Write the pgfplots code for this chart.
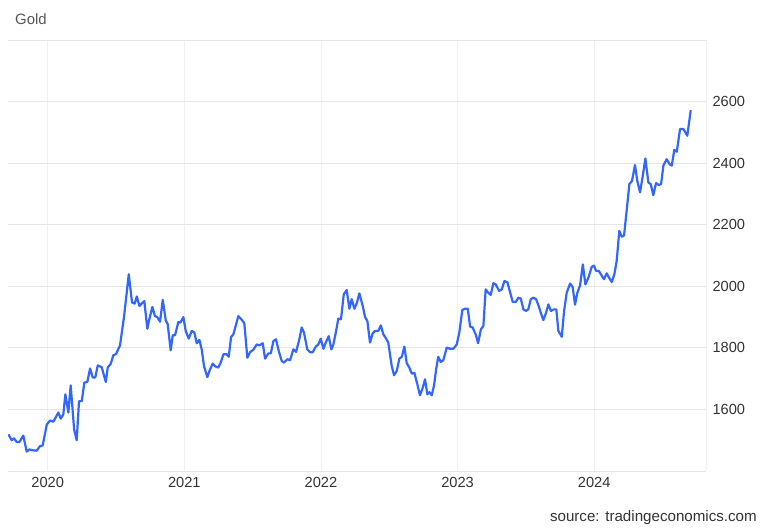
\documentclass[border=0pt]{standalone}
\usepackage{fontspec}
\setmainfont{Liberation Sans}
\usepackage{pgfplots}
\pgfplotsset{compat=1.18}

\definecolor{goldline}{HTML}{3366FF}
\definecolor{hgrid}{HTML}{E6E6E6}
\definecolor{vgrid}{HTML}{EEF1F5}
\definecolor{ticktext}{HTML}{333333}
\definecolor{titletext}{HTML}{555555}

\begin{document}
\begin{tikzpicture}[x=1bp,y=1bp]
  \path[use as bounding box] (0,0) rectangle (768,532);
  \node[anchor=west, inner sep=0pt, text=titletext, font=\fontsize{15}{17}\selectfont] at (15,513) {Gold};
  \node[anchor=east, inner sep=0pt, text=ticktext, font=\fontsize{15.2}{17}\selectfont] at (757,14) {source: tradingeconomics.com};
  \begin{axis}[
      at={(8bp,61bp)}, anchor=south west,
      scale only axis,
      width=698bp, height=431bp,
      xmin=2019.709, xmax=2024.819,
      ymin=1400, ymax=2800,
      axis line style={draw=none},
      major tick length=0pt,
      xtick={2020,2021,2022,2023,2024},
      ytick={1600,1800,2000,2200,2400,2600},
      extra y ticks={1400,2800},
      extra y tick labels={},
      extra y tick style={grid=major, major grid style={hgrid, line width=0.8bp}},
      extra x ticks={2024.819},
      extra x tick labels={},
      extra x tick style={grid=major, major grid style={hgrid, line width=0.8bp}},
      xmajorgrids=true, ymajorgrids=true,
      x grid style={vgrid, line width=0.8bp},
      y grid style={hgrid, line width=0.8bp},
      yticklabel pos=right,
      /pgf/number format/.cd, 1000 sep={}, assume math mode=true,
      /pgfplots/.cd,
      ticklabel style={text=ticktext, font=\fontsize{14.7}{17}\selectfont},
      yticklabel style={anchor=west, xshift=3bp},
      xticklabel style={yshift=-3bp},
    ]
    \addplot[goldline, line width=2.2bp, line join=round] coordinates {
      (2019.712,1519)(2019.736,1500)(2019.753,1506)(2019.773,1494)(2019.792,1494)
      (2019.821,1515)(2019.846,1463)(2019.865,1470)(2019.895,1467)(2019.919,1466)
      (2019.944,1481)(2019.963,1483)(2019.993,1551)(2020.017,1564)(2020.041,1560)
      (2020.078,1590)(2020.095,1570)(2020.114,1584)(2020.129,1649)(2020.151,1590)
      (2020.168,1678)(2020.193,1535)(2020.212,1500)(2020.229,1627)(2020.249,1627)
      (2020.268,1687)(2020.290,1690)(2020.310,1733)(2020.329,1704)(2020.348,1704)
      (2020.366,1743)(2020.395,1737)(2020.425,1689)(2020.439,1736)(2020.461,1748)
      (2020.480,1776)(2020.500,1780)(2020.529,1808)(2020.559,1903)(2020.593,2039)
      (2020.617,1947)(2020.637,1944)(2020.652,1967)(2020.671,1936)(2020.688,1944)
      (2020.707,1952)(2020.729,1862)(2020.742,1890)(2020.766,1933)(2020.785,1903)
      (2020.802,1900)(2020.822,1885)(2020.842,1956)(2020.864,1889)(2020.878,1877)
      (2020.900,1792)(2020.915,1841)(2020.932,1841)(2020.956,1884)(2020.971,1882)
      (2020.993,1900)(2021.010,1855)(2021.032,1830)(2021.054,1855)(2021.073,1850)
      (2021.091,1815)(2021.110,1826)(2021.127,1795)(2021.144,1741)(2021.168,1705)
      (2021.188,1730)(2021.208,1749)(2021.225,1740)(2021.249,1736)(2021.266,1752)
      (2021.286,1779)(2021.310,1779)(2021.325,1771)(2021.342,1835)(2021.359,1844)
      (2021.395,1903)(2021.413,1895)(2021.439,1880)(2021.461,1768)(2021.481,1786)
      (2021.505,1794)(2021.530,1811)(2021.549,1808)(2021.574,1815)(2021.591,1765)
      (2021.615,1782)(2021.633,1782)(2021.652,1822)(2021.671,1828)(2021.688,1795)
      (2021.713,1757)(2021.730,1752)(2021.754,1763)(2021.774,1760)(2021.798,1795)
      (2021.818,1787)(2021.842,1828)(2021.859,1866)(2021.876,1849)(2021.900,1795)
      (2021.920,1786)(2021.940,1786)(2021.962,1804)(2021.981,1811)(2021.999,1830)
      (2022.018,1797)(2022.037,1819)(2022.057,1838)(2022.076,1795)(2022.091,1811)
      (2022.111,1855)(2022.127,1895)(2022.147,1893)(2022.167,1974)(2022.189,1988)
      (2022.208,1927)(2022.225,1958)(2022.245,1927)(2022.264,1947)(2022.281,1977)
      (2022.306,1936)(2022.323,1900)(2022.340,1887)(2022.359,1817)(2022.379,1847)
      (2022.396,1855)(2022.420,1855)(2022.438,1873)(2022.457,1844)(2022.477,1830)
      (2022.493,1817)(2022.518,1741)(2022.535,1711)(2022.555,1725)(2022.574,1765)
      (2022.592,1771)(2022.611,1804)(2022.628,1750)(2022.647,1736)(2022.665,1716)
      (2022.684,1719)(2022.706,1681)(2022.725,1646)(2022.745,1670)(2022.762,1698)
      (2022.779,1649)(2022.794,1656)(2022.811,1646)(2022.828,1678)(2022.843,1730)
      (2022.859,1771)(2022.877,1754)(2022.896,1760)(2022.921,1801)(2022.945,1797)
      (2022.969,1797)(2022.994,1811)(2023.013,1850)(2023.035,1923)(2023.055,1927)
      (2023.075,1927)(2023.092,1869)(2023.111,1866)(2023.135,1841)(2023.150,1815)
      (2023.171,1860)(2023.189,1871)(2023.206,1990)(2023.225,1979)(2023.243,1972)
      (2023.262,2010)(2023.280,2006)(2023.304,1985)(2023.324,1990)(2023.343,2017)
      (2023.365,2013)(2023.384,1982)(2023.404,1949)(2023.426,1949)(2023.445,1963)
      (2023.463,1960)(2023.482,1925)(2023.501,1920)(2023.518,1925)(2023.536,1958)
      (2023.555,1963)(2023.575,1958)(2023.594,1936)(2023.611,1912)(2023.628,1890)
      (2023.648,1914)(2023.665,1941)(2023.684,1920)(2023.706,1925)(2023.723,1925)
      (2023.738,1855)(2023.763,1836)(2023.780,1920)(2023.799,1979)(2023.824,2009)
      (2023.843,1997)(2023.860,1940)(2023.877,1979)(2023.897,2003)(2023.917,2071)
      (2023.936,2006)(2023.958,2028)(2023.982,2063)(2023.999,2067)(2024.014,2050)
      (2024.034,2050)(2024.056,2034)(2024.072,2023)(2024.092,2042)(2024.109,2028)
      (2024.129,2014)(2024.148,2039)(2024.165,2082)(2024.184,2180)(2024.202,2161)
      (2024.219,2165)(2024.239,2250)(2024.258,2332)(2024.277,2342)(2024.299,2394)
      (2024.316,2342)(2024.336,2305)(2024.356,2359)(2024.375,2415)(2024.397,2337)
      (2024.414,2332)(2024.433,2296)(2024.453,2335)(2024.473,2329)(2024.490,2332)
      (2024.507,2392)(2024.531,2413)(2024.551,2397)(2024.568,2392)(2024.587,2443)
      (2024.605,2437)(2024.629,2511)(2024.653,2511)(2024.682,2489)(2024.707,2572)
    };
  \end{axis}
\end{tikzpicture}
\end{document}
